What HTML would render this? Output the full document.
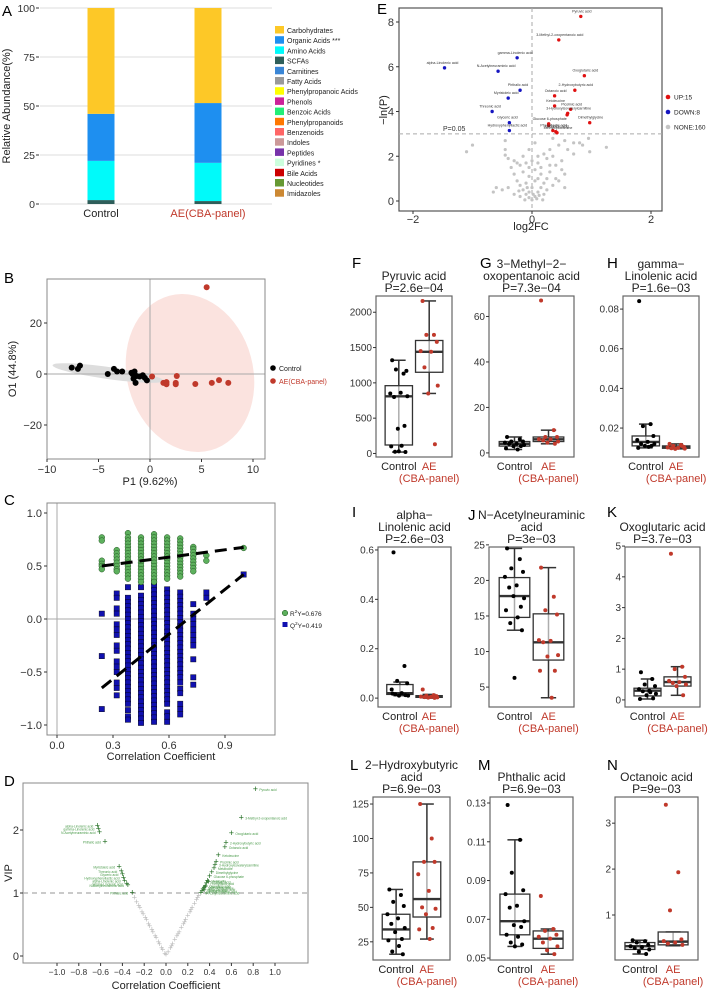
<!DOCTYPE html>
<html><head><meta charset="utf-8">
<style>
html,body{margin:0;padding:0;background:#fff;}
svg{display:block;font-family:"Liberation Sans",Arial,sans-serif;}
</style></head>
<body>
<svg id="fig" width="709" height="992" viewBox="0 0 709 992" xmlns="http://www.w3.org/2000/svg"></svg>
<script>
// ---------- Panel A data ----------
const aCategories = ["Carbohydrates","Organic Acids ***","Amino Acids","SCFAs","Carnitines","Fatty Acids","Phenylpropanoic Acids","Phenols","Benzoic Acids","Phenylpropanoids","Benzenoids","Indoles","Peptides","Pyridines *","Bile Acids","Nucleotides","Imidazoles"];
const aColors = ["#FDC827","#1E8FF0","#00FAFA","#2E5E5A","#3A86D6","#9A9A9A","#FFFF00","#CC2299","#22EE77","#FF7700","#FF6666","#CC9999","#7733AA","#CCFFDD","#CC0000","#669933","#CC8833"];
const aGroups = ["Control","AE(CBA-panel)"];
const aControl = [54,24,20,2,0,0,0,0,0,0,0,0,0,0,0,0,0];
const aAE = [48.5,30.5,19.5,1.5,0,0,0,0,0,0,0,0,0,0,0,0,0];
const aTicks = [0,25,50,75,100];

// ---------- Panel B data ----------
const bControlX = [-7.6,-7,-6.8,-4.1,-3.5,-3.2,-2.7,-1.7,-1.5,-1.6,-1.0,-1.4,-0.7,-0.5,-0.3,-1.8,-1.3];
const bControlY = [2.5,2,3.3,0,2,1,1,0,1,-1.8,-1,-3.5,-0.5,-1.5,-2.5,0.5,-0.8];
const bAEX = [0.2,1.3,1.6,1.6,2.5,2.5,2.6,4.4,6.0,6.7,7.6,5.5];
const bAEY = [-1,-3.5,-3.2,-4,-3.5,-4,-0.8,-3.9,-3.5,-2.4,-3.5,34];
const bXTicks = [-10,-5,0,5,10];
const bYTicks = [-20,0,20];

// ---------- Panel C data ----------
const cCols = [0.24,0.32,0.38,0.45,0.52,0.59,0.66,0.73,0.80,1.0];
const cR2 = [
 [0.77,0.74,0.55,0.52,0.5,0.47],
 [0.65,0.62,0.59,0.56,0.53,0.5,0.47,0.45],
 [0.81,0.77,0.74,0.71,0.68,0.65,0.62,0.59,0.56,0.53,0.5,0.47,0.44,0.41,0.38],
 [0.77,0.74,0.71,0.68,0.65,0.62,0.59,0.56,0.53,0.5,0.47,0.44,0.41,0.38,0.35],
 [0.8,0.77,0.74,0.71,0.68,0.65,0.62,0.59,0.56,0.53,0.5,0.47,0.44,0.41,0.38,0.35],
 [0.77,0.74,0.71,0.68,0.65,0.62,0.59,0.56,0.53,0.5,0.47,0.44,0.41,0.38],
 [0.76,0.73,0.7,0.67,0.64,0.61,0.58,0.55,0.52,0.49,0.46,0.43,0.4],
 [0.68,0.66,0.63,0.6,0.57,0.54,0.51,0.48,0.45],
 [0.6,0.55],
 [0.67]];
const cQ2 = [
 [0.05,-0.35,-0.85],
 [0.24,0.2,0.1,0.05,-0.05,-0.1,-0.15,-0.25,-0.3,-0.4,-0.45,-0.5,-0.6,-0.65,-0.72],
 [0.3,0.2,0.16,0.12,0.08,0.04,0,-0.04,-0.08,-0.12,-0.16,-0.2,-0.24,-0.28,-0.32,-0.36,-0.4,-0.44,-0.48,-0.52,-0.56,-0.6,-0.64,-0.68,-0.72,-0.76,-0.8,-0.86,-0.92,-0.95],
 [0.3,0.22,0.18,0.14,0.1,0.06,0.02,-0.02,-0.06,-0.1,-0.14,-0.18,-0.22,-0.26,-0.3,-0.34,-0.38,-0.42,-0.46,-0.5,-0.54,-0.58,-0.62,-0.66,-0.7,-0.74,-0.78,-0.82,-0.86,-0.9,-0.94,-0.98],
 [0.35,0.31,0.27,0.23,0.19,0.15,0.11,0.07,0.03,-0.01,-0.05,-0.09,-0.13,-0.17,-0.21,-0.25,-0.29,-0.33,-0.37,-0.41,-0.45,-0.49,-0.53,-0.57,-0.61,-0.65,-0.69,-0.73,-0.77,-0.81,-0.85,-0.89,-0.93,-0.97],
 [0.28,0.24,0.2,0.16,0.12,0.08,0.04,0,-0.04,-0.08,-0.12,-0.16,-0.2,-0.24,-0.28,-0.32,-0.36,-0.4,-0.44,-0.48,-0.52,-0.56,-0.6,-0.64,-0.68,-0.72,-0.76,-0.8,-0.88,-0.92,-0.97],
 [0.25,0.21,0.17,0.13,0.09,0.05,0.01,-0.03,-0.07,-0.11,-0.15,-0.19,-0.23,-0.27,-0.31,-0.35,-0.39,-0.43,-0.47,-0.51,-0.55,-0.6,-0.66,-0.7,-0.8,-0.85,-0.9],
 [0.14,0.05,0,-0.05,-0.1,-0.15,-0.2,-0.25,-0.38,-0.55,-0.62],
 [0.25,0.2],
 [0.42]];
const cR2Line = [[0.24,0.50],[1.0,0.676]];
const cQ2Line = [[0.24,-0.65],[1.0,0.42]];
const cXTicks = [0.0,0.3,0.6,0.9];
const cYTicks = [-1.0,-0.5,0.0,0.5,1.0];

// ---------- Panel D data ----------
const dGrayX = [-0.31,-0.29,-0.27,-0.25,-0.24,-0.22,-0.21,-0.19,-0.18,-0.16,-0.15,-0.13,-0.12,-0.1,-0.09,-0.07,-0.06,-0.04,-0.03,-0.01,0,0.02,0.04,0.05,0.06,0.08,0.1,0.11,0.12,0.14,0.16,0.17,0.18,0.2,0.22,0.23,0.24,0.26,0.28,0.29,0.3];
const dGrayVIP = [1.0,0.93,0.86,0.8,0.77,0.7,0.67,0.61,0.58,0.51,0.48,0.42,0.38,0.32,0.29,0.22,0.19,0.13,0.1,0.04,0.02,0.06,0.13,0.16,0.19,0.26,0.32,0.35,0.38,0.45,0.51,0.54,0.58,0.64,0.7,0.74,0.77,0.83,0.9,0.93,0.96];
const dPosX = [0.82,0.69,0.6,0.55,0.54,0.48,0.46,0.45,0.44,0.42,0.4,0.38,0.37,0.36,0.35,0.34,0.33,0.32,0.39,0.36,0.35];
const dPosVIP = [2.65,2.2,1.95,1.8,1.73,1.6,1.5,1.45,1.4,1.33,1.27,1.2,1.16,1.12,1.09,1.06,1.03,1.01,1.18,1.1,1.05];
const dNegX = [-0.63,-0.62,-0.61,-0.56,-0.43,-0.41,-0.4,-0.39,-0.38,-0.36,-0.35,-0.31];
const dNegVIP = [2.07,2.02,1.97,1.82,1.42,1.35,1.3,1.25,1.2,1.15,1.13,1.01];
const dXTicks = [-1.0,-0.8,-0.6,-0.4,-0.2,0.0,0.2,0.4,0.6,0.8,1.0];
const dYTicks = [0,1,2];

// ---------- Panel E data ----------
const eUpNames = ["Pyruvic acid","3-Methyl-2-oxopentanoic acid","Oxoglutaric acid","2-Hydroxybutyric acid","Octanoic acid","Ketoleucine","Picolinic acid","3-Hydroxyisovalerylcarnitine","","Dimethylglycine","Glucose 6-phosphate","","Phenyllactic acid","Oxoadipic acid","Methylcysteamine"];
const eUpX = [0.82,0.45,0.88,0.72,0.38,0.38,0.65,0.6,0.59,0.97,0.28,0.28,0.35,0.4,0.42];
const eUpY = [8.25,7.2,5.6,4.95,4.7,4.25,4.1,3.92,3.85,3.5,3.45,3.38,3.15,3.1,3.05];
const eDownNames = ["alpha-Linolenic acid","gamma-Linolenic acid","N-Acetylneuraminic acid","Phthalic acid","Myristoleic acid","Threonic acid","Glyceric acid","Hydroxyphenyllactic acid"];
const eDownX = [-1.47,-0.25,-0.57,-0.2,-0.4,-0.67,-0.38,-0.38];
const eDownY = [5.95,6.4,5.8,4.95,4.6,4.0,3.5,3.15];
const eGrayX = [-1.1,-1.0,-0.45,-0.45,-0.4,-0.3,-0.2,-0.15,-0.1,-0.05,0,0.05,0.1,0.15,0.2,0.25,0.3,0.35,0.4,0.45,0.5,0.55,0.6,0.7,0.7,0.85,0.95,0.97,1.25,-0.3,-0.25,-0.2,-0.15,-0.1,-0.05,0,0.05,0.1,0.15,0.2,0.25,0.3,-0.35,-0.5,-0.6,-0.65,-0.4,-0.3,-0.2,-0.1,0.05,0.1,0.2,0.25,0.35,0.4,0.45,0.5,0.55,-0.05,0,-0.15,0.15,-0.25,0.3,0.1,-0.05,0.05,-0.45,0.55,0.35,0.8,-0.05,0.02,0.08,-0.12,0.12,-0.08,0.18,-0.22];
const eGrayY = [2.2,2.5,2.3,2.05,1.9,1.8,1.6,2.0,1.7,1.5,1.8,1.4,1.7,1.2,2.1,1.9,2.3,2.0,1.6,2.5,1.8,1.2,2.3,2.6,2.1,2.5,2.8,2.2,2.4,1.2,0.9,0.7,0.5,0.3,0.15,0.05,0.2,0.4,0.6,0.8,1.0,1.3,1.5,0.5,0.6,0.4,0.6,0.3,0.2,0.8,0.9,1.0,0.3,0.5,0.7,1.0,0.9,1.4,0.6,1.1,0.6,1.3,1.5,1.7,1.6,2.0,2.3,2.6,2.7,2.7,2.8,2.6,0.4,0.3,0.1,0.05,0.25,0.6,0.05,0.45];
const eXTicks = [-2,0,2];
const eYTicks = [0,2,4,6,8];

// ---------- Box plot data (Control / AE) ----------
const pyruvicCtrl = [1320,1130,1190,1170,850,860,800,810,350,390,100,110,25,20,30];
const pyruvicAE = [2160,1680,1680,1580,1450,1440,1220,960,850,130];
const pyruvicStats = [[20,120,810,960,1320],[850,1150,1440,1600,2160]];
const methylCtrl = [7,6,5,5,4.5,4,4,3.5,3,3,2,1.5];
const methylAE = [67,10,7,7,6,6,5.5,5,4.5,4];
const methylStats = [[1.5,3,4,5,7],[4,5,6,7,10]];
const gammaCtrl = [0.084,0.022,0.021,0.016,0.014,0.013,0.012,0.012,0.011,0.011,0.010,0.0105];
const gammaAE = [0.012,0.0115,0.011,0.0105,0.0102,0.010,0.0098,0.0096,0.0095,0.011];
const gammaStats = [[0.010,0.011,0.013,0.016,0.022],[0.0095,0.0098,0.0103,0.011,0.012]];
const alphaCtrl = [0.59,0.13,0.07,0.06,0.035,0.02,0.015,0.01,0.01,0.012,0.018];
const alphaAE = [0.035,0.012,0.01,0.008,0.006,0.005,0.004,0.003,0.002,0.001];
const alphaStats = [[0.01,0.015,0.02,0.055,0.065],[0,0.003,0.006,0.01,0.015]];
const neuCtrl = [24.5,23,21.7,21.2,20.5,19.3,19,17.5,17.8,16.3,15.8,14.8,14,13,6.3];
const neuAE = [21.8,17.7,15.8,15.2,11.6,11.5,11.3,9.5,9.3,7.3,7.3,3.5];
const neuStats = [[13,14.8,17.8,20.4,24.5],[3.5,8.8,11.3,15.3,21.8]];
const oxoCtrl = [0.9,0.68,0.5,0.45,0.35,0.3,0.28,0.2,0.15,0.05,0.03,0.25];
const oxoAE = [4.75,1.08,1.0,0.75,0.62,0.58,0.55,0.5,0.45,0.15];
const oxoStats = [[0.03,0.13,0.3,0.38,0.68],[0.15,0.45,0.58,0.75,1.08]];
const hbCtrl = [63,59,54,51,45,42,38,35,32,27,26,22,18,16];
const hbAE = [125,100,83,83,74,62,50,49,45,35,34,27];
const hbStats = [[16,27,34,45,63],[27,43,56,83,125]];
const phCtrl = [0.129,0.111,0.094,0.085,0.083,0.077,0.076,0.069,0.067,0.066,0.062,0.061,0.058,0.057,0.056];
const phAE = [0.082,0.065,0.064,0.062,0.061,0.06,0.058,0.056,0.054,0.052];
const phStats = [[0.056,0.062,0.069,0.083,0.111],[0.052,0.055,0.06,0.064,0.065]];
const ocCtrl = [0.45,0.43,0.4,0.35,0.32,0.3,0.28,0.25,0.2,0.15];
const ocAE = [3.4,1.93,1.1,0.47,0.43,0.4,0.38,0.35];
const ocStats = [[0.15,0.25,0.32,0.4,0.45],[0.33,0.35,0.42,0.63,0.63]];

const NS="http://www.w3.org/2000/svg";
const svg=document.getElementById('fig');
function el(tag,attrs,parent,text){const e=document.createElementNS(NS,tag);for(const k in attrs)e.setAttribute(k,attrs[k]);if(text!==undefined)e.textContent=text;(parent||svg).appendChild(e);return e;}
function grp(name,parent){const g=el('g',{},parent);return g;}
function lin(d0,d1,p0,p1){return v=>p0+(v-d0)*(p1-p0)/(d1-d0);}
const RED="#C0392B";

// ================= Panel A =================
(function(){
 const g=grp('panel-a-stacked-bar');
 const t=el('text',{x:2,y:16,'font-size':15},g,'A');
 const y=lin(0,100,204,8);
 aTicks.forEach(v=>{
  const gl=el('line',{x1:40,x2:272,y1:y(v),y2:y(v),stroke:'#ddd','stroke-width':1},g);
  
  const tl=el('text',{x:35,y:y(v)+4,'font-size':10.5,'text-anchor':'end',fill:'#333'},g,String(v));
  
  el('line',{x1:36,x2:39,y1:y(v),y2:y(v),stroke:'#333'},g);
 });
 const yl=el('text',{x:0,y:0,'font-size':11,'text-anchor':'middle',fill:'#222',transform:'translate(10,106) rotate(-90)'},g,'Relative Abundance(%)');
 
 const centers=[101,208];
 [aControl,aAE].forEach((vals,gi)=>{
  let cum=0;
  const order=[3,2,1,0];
  order.forEach(ci=>{
   const v=vals[ci];if(v<=0)return;
   const r=el('rect',{x:centers[gi]-13.5,y:y(cum+v),width:27,height:y(cum)-y(cum+v),fill:aColors[ci]},g);
   
   cum+=v;
  });
  const xl=el('text',{x:centers[gi],y:217,'font-size':11,'text-anchor':'middle',fill:gi?RED:'#222'},g,aGroups[gi]);
  
 });
 aCategories.forEach((c,i)=>{
  const yy=26+i*10.2;
  const s=el('rect',{x:275,y:yy,width:9,height:7.5,fill:aColors[i]},g);
  
  const lt=el('text',{x:287,y:yy+7,'font-size':7,fill:'#222'},g,c);
  
 });
})();

// ================= Panel B =================
(function(){
 const g=grp('panel-b-opls-da');
 const t=el('text',{x:4,y:283,'font-size':15},g,'B');
 const L=47,R=265,T=279,B=459;
 const x=lin(0,10,150,253),y=lin(0,20,374,323);
 const e1=el('ellipse',{cx:190,cy:373,rx:63,ry:80,fill:'#FBE3DF',transform:'rotate(-15 190 373)'},g);
 
 const e2=el('ellipse',{cx:108,cy:373,rx:56,ry:6,fill:'#DDDDDD',transform:'rotate(8 108 373)'},g);
 
 el('line',{x1:x(0),x2:x(0),y1:T,y2:B,stroke:'#aaa'},g);
 el('line',{x1:L,x2:R,y1:y(0),y2:y(0),stroke:'#aaa'},g);
 const fr=el('rect',{x:L,y:T,width:R-L,height:B-T,fill:'none',stroke:'#888'},g);
 bXTicks.forEach(v=>{el('line',{x1:x(v),x2:x(v),y1:B,y2:B+3,stroke:'#333'},g);
  const tl=el('text',{x:x(v),y:B+14,'font-size':11,'text-anchor':'middle',fill:'#333'},g,v<0?'\u2212'+(-v):String(v));});
 bYTicks.forEach(v=>{el('line',{x1:L-3,x2:L,y1:y(v),y2:y(v),stroke:'#333'},g);
  const tl=el('text',{x:L-5,y:y(v)+4,'font-size':11,'text-anchor':'end',fill:'#333'},g,v<0?'\u2212'+(-v):String(v));});
 bControlX.forEach((v,i)=>{const c=el('circle',{cx:x(v),cy:y(bControlY[i]),r:3,fill:'#000'},g);});
 bAEX.forEach((v,i)=>{const c=el('circle',{cx:x(v),cy:y(bAEY[i]),r:3,fill:RED},g);});
 const xt=el('text',{x:150,y:485,'font-size':11,'text-anchor':'middle',fill:'#222'},g,'P1 (9.62%)');
 const yt=el('text',{x:0,y:0,'font-size':11,'text-anchor':'middle',fill:'#222',transform:'translate(16,369) rotate(-90)'},g,'O1 (44.8%)');
 el('circle',{cx:273,cy:368,r:2.8,fill:'#000'},g);
 const l1=el('text',{x:279,y:371,'font-size':7,fill:'#222'},g,'Control');
 el('circle',{cx:273,cy:381,r:2.8,fill:RED},g);
 const l2=el('text',{x:279,y:384,'font-size':7,fill:RED},g,'AE(CBA-panel)');
})();

// ================= Panel C =================
(function(){
 const g=grp('panel-c-permutation');
 const t=el('text',{x:4,y:505,'font-size':15},g,'C');
 const L=47,R=275,T=503,B=735;
 const x=lin(0,0.3,57,113),y=lin(0,1,619,513);
 el('line',{x1:x(0),x2:x(0),y1:T,y2:B,stroke:'#aaa'},g);
 el('line',{x1:L,x2:R,y1:y(0),y2:y(0),stroke:'#aaa'},g);
 const fr=el('rect',{x:L,y:T,width:R-L,height:B-T,fill:'none',stroke:'#888'},g);
 cXTicks.forEach(v=>{el('line',{x1:x(v),x2:x(v),y1:B,y2:B+3,stroke:'#333'},g);
  const tl=el('text',{x:x(v),y:B+14,'font-size':11,'text-anchor':'middle',fill:'#333'},g,v.toFixed(1));});
 cYTicks.forEach(v=>{el('line',{x1:L-3,x2:L,y1:y(v),y2:y(v),stroke:'#333'},g);
  const tl=el('text',{x:L-5,y:y(v)+4,'font-size':11,'text-anchor':'end',fill:'#333'},g,(v<0?'\u2212':'')+Math.abs(v).toFixed(1));});
 cQ2.forEach((col,ci)=>col.forEach(v=>{const r=el('rect',{x:x(cCols[ci])-2.7,y:y(v)-2.7,width:5.4,height:5.4,fill:'#1010B0',stroke:'#000','stroke-width':0.4},g);}));
 cR2.forEach((col,ci)=>col.forEach(v=>{const c=el('circle',{cx:x(cCols[ci]),cy:y(v),r:2.9,fill:'#5DB05D',stroke:'#225522','stroke-width':0.5},g);}));
 [cR2Line,cQ2Line].forEach((ln,i)=>{const l=el('line',{x1:x(ln[0][0]),y1:y(ln[0][1]),x2:x(ln[1][0]),y2:y(ln[1][1]),stroke:'#000','stroke-width':3,'stroke-dasharray':'12,7'},g);});
 const xt=el('text',{x:161,y:760,'font-size':11,'text-anchor':'middle',fill:'#222'},g,'Correlation Coefficient');
 el('circle',{cx:285,cy:613,r:2.8,fill:'#5DB05D',stroke:'#225522','stroke-width':0.5},g);
 const l1=el('text',{x:290,y:616,'font-size':6.5,fill:'#222'},g);
 l1.innerHTML='R<tspan dy="-3" font-size="4.5">2</tspan><tspan dy="3">Y=0.676</tspan>';
 el('rect',{x:282.5,y:622,width:5,height:5,fill:'#1010B0'},g);
 const l2=el('text',{x:290,y:628,'font-size':6.5,fill:'#222'},g);
 l2.innerHTML='Q<tspan dy="-3" font-size="4.5">2</tspan><tspan dy="3">Y=0.419</tspan>';
})();

// ================= Panel D =================
(function(){
 const g=grp('panel-d-vip');
 const t=el('text',{x:4,y:786,'font-size':15},g,'D');
 const L=23,R=308,T=783,B=963;
 const x=lin(0,1,166,275),y=lin(0,1,956,893);
 const fr=el('rect',{x:L,y:T,width:R-L,height:B-T,fill:'none',stroke:'#888'},g);
 const th=el('line',{x1:L,x2:R,y1:y(1),y2:y(1),stroke:'#aaa','stroke-dasharray':'5,4','stroke-width':1.2},g);
 dXTicks.forEach(v=>{el('line',{x1:x(v),x2:x(v),y1:B,y2:B+3,stroke:'#333'},g);
  const tl=el('text',{x:x(v),y:B+12,'font-size':8.5,'text-anchor':'middle',fill:'#333'},g,(v<0?'\u2212':'')+Math.abs(v).toFixed(1));});
 dYTicks.forEach(v=>{el('line',{x1:L-3,x2:L,y1:y(v),y2:y(v),stroke:'#333'},g);
  const tl=el('text',{x:L-4,y:y(v)+4,'font-size':11,'text-anchor':'end',fill:'#333'},g,String(v));});
 dGrayX.forEach((v,i)=>{const c=el('text',{x:x(v),y:y(dGrayVIP[i])+3,'font-size':9,'text-anchor':'middle',fill:'#bbb'},g,'+');});
 const names=eUpNames.concat(eDownNames);
 dPosX.forEach((v,i)=>{
  const lb=el('text',{x:x(v)+4,y:y(dPosVIP[i])+2,'font-size':3.2,fill:'#4a9a4a'},g,names[i%names.length]||'Metabolite');
  const c=el('text',{x:x(v),y:y(dPosVIP[i])+3,'font-size':9,'text-anchor':'middle',fill:'#1E6B1E'},g,'+');});
 dNegX.forEach((v,i)=>{
  const lb=el('text',{x:x(v)-4,y:y(dNegVIP[i])+2,'font-size':3.2,'text-anchor':'end',fill:'#4a9a4a'},g,eDownNames[i%eDownNames.length]);
  const c=el('text',{x:x(v),y:y(dNegVIP[i])+3,'font-size':9,'text-anchor':'middle',fill:'#1E6B1E'},g,'+');});
 const xt=el('text',{x:166,y:989,'font-size':11,'text-anchor':'middle',fill:'#222'},g,'Correlation Coefficient');
 const yt=el('text',{x:0,y:0,'font-size':11,'text-anchor':'middle',fill:'#222',transform:'translate(12,873) rotate(-90)'},g,'VIP');
})();

// ================= Panel E =================
(function(){
 const g=grp('panel-e-volcano');
 const t=el('text',{x:377,y:14,'font-size':15},g,'E');
 const L=399,R=662,T=8,B=211;
 const x=lin(0,2,532,651),y=lin(0,8,201,22);
 const fr=el('rect',{x:L,y:T,width:R-L,height:B-T,fill:'none',stroke:'#555','stroke-width':1.2},g);
 el('line',{x1:x(0),x2:x(0),y1:T,y2:B,stroke:'#aaa','stroke-dasharray':'4,3'},g);
 const ph=el('line',{x1:L,x2:R,y1:y(3),y2:y(3),stroke:'#aaa','stroke-dasharray':'4,3'},g);
 el('text',{x:443,y:y(3)-3,'font-size':7,fill:'#333'},g,'P=0.05');
 eXTicks.forEach(v=>{el('line',{x1:x(v),x2:x(v),y1:B,y2:B+3,stroke:'#333'},g);
  const tl=el('text',{x:x(v),y:B+12,'font-size':11,'text-anchor':'middle',fill:'#333'},g,v<0?'\u2212'+(-v):String(v));});
 eYTicks.forEach(v=>{el('line',{x1:L-3,x2:L,y1:y(v),y2:y(v),stroke:'#333'},g);
  const tl=el('text',{x:L-5,y:y(v)+4,'font-size':11,'text-anchor':'end',fill:'#333'},g,String(v));});
 eGrayX.forEach((v,i)=>{const c=el('circle',{cx:x(v),cy:y(eGrayY[i]),r:1.6,fill:'#C4C4C4'},g);});
 eDownX.forEach((v,i)=>{const c=el('circle',{cx:x(v),cy:y(eDownY[i]),r:1.7,fill:'#1515C0'},g);
  const lb=el('text',{x:x(v)-2,y:y(eDownY[i])-4,'font-size':3.6,'text-anchor':'middle',fill:'#333'},g,eDownNames[i]);});
 eUpX.forEach((v,i)=>{const c=el('circle',{cx:x(v),cy:y(eUpY[i]),r:1.7,fill:'#E01010'},g);
  if(eUpNames[i]){const lb=el('text',{x:x(v)+1,y:y(eUpY[i])-4,'font-size':3.6,'text-anchor':'middle',fill:'#333'},g,eUpNames[i]);}});
 const xt=el('text',{x:531,y:230,'font-size':11,'text-anchor':'middle',fill:'#222'},g,'log2FC');
 const yt=el('text',{x:0,y:0,'font-size':11,'text-anchor':'middle',fill:'#222',transform:'translate(387,110) rotate(-90)'},g,'\u2212ln(P)');
 [['#E01010','UP:15',97],['#1515C0','DOWN:8',112],['#C4C4C4','NONE:160',127]].forEach(d=>{
  el('circle',{cx:668,cy:d[2],r:2.3,fill:d[0]},g);
  const lt=el('text',{x:674,y:d[2]+2.5,'font-size':6.5,fill:'#222'},g,d[1]);
 });
})();

// ================= Box plots F-N =================
const jit=[-7,5,-3,8,-9,2,-5,9,-1,6,-8,3,-4,7,0,-6];
function boxPanel(name,letter,letterPos,titleLines,pText,L,R,T,B,dom,ticks,tickFmt,ctrl,ae,stats){
 const g=grp(name);
 if(letter){const t=el('text',{x:letterPos[0],y:letterPos[1],'font-size':15},g,letter);}
 const cx=(L+R)/2;
 const lines=titleLines.concat([pText]);
 lines.forEach((s,i)=>{const tt=el('text',{x:cx,y:T-4-(lines.length-1-i)*12,'font-size':12,'text-anchor':'middle',fill:'#222'},g,s);});
 const y=lin(dom[0],dom[1],B,T);
 const fr=el('rect',{x:L,y:T,width:R-L,height:B-T,fill:'none',stroke:'#666','stroke-width':1.2},g);
 ticks.forEach(v=>{el('line',{x1:L-3,x2:L,y1:y(v),y2:y(v),stroke:'#333'},g);
  const tl=el('text',{x:L-4,y:y(v)+3.5,'font-size':10,'text-anchor':'end',fill:'#333'},g,tickFmt(v));});
 const w=R-L, xs=[L+w*0.3,L+w*0.7], bw=w*0.36;
 [ctrl,ae].forEach((pts,gi)=>{
  const s=stats[gi],xc=xs[gi];
  el('line',{x1:xc,x2:xc,y1:y(s[0]),y2:y(s[4]),stroke:'#333','stroke-width':1.5},g);
  [s[0],s[4]].forEach(v=>el('line',{x1:xc-bw/4,x2:xc+bw/4,y1:y(v),y2:y(v),stroke:'#333','stroke-width':1.5},g));
  const b=el('rect',{x:xc-bw/2,y:y(s[3]),width:bw,height:Math.max(1,y(s[1])-y(s[3])),fill:'#fff','fill-opacity':0.6,stroke:'#333','stroke-width':1.3},g);
  
  el('line',{x1:xc-bw/2,x2:xc+bw/2,y1:y(s[2]),y2:y(s[2]),stroke:'#333','stroke-width':2.4},g);
  pts.forEach((v,i)=>{const c=el('circle',{cx:xc+jit[i%jit.length]*w/80,cy:y(v),r:2,fill:gi?RED:'#000'},g);});
  const xl=el('text',{x:xc,y:B+13,'font-size':11,'text-anchor':'middle',fill:gi?RED:'#222'},g,gi?'AE':'Control');
 });
 const sub=el('text',{x:xs[1],y:B+25,'font-size':11,'text-anchor':'middle',fill:RED},g,'(CBA-panel)');
}
const fI=v=>String(v), f2=v=>v.toFixed(2), f1=v=>v.toFixed(1);
boxPanel('panel-f-pyruvic','F',[352,268],['Pyruvic acid'],'P=2.6e\u221204',376,452,296,457,[-50,2230],[0,500,1000,1500,2000],fI,pyruvicCtrl,pyruvicAE,pyruvicStats);
boxPanel('panel-g-methyl','G',[480,268],['3\u2212Methyl\u22122\u2212','oxopentanoic acid'],'P=7.3e\u221204',489,574,296,457,[-1.8,69],[0,20,40,60],fI,methylCtrl,methylAE,methylStats);
boxPanel('panel-h-gamma','H',[607,268],['gamma\u2212','Linolenic acid'],'P=1.6e\u221203',623,699,296,457,[0.0054,0.0866],[0.02,0.04,0.06,0.08],f2,gammaCtrl,gammaAE,gammaStats);
boxPanel('panel-i-alpha','I',[352,517],['alpha\u2212','Linolenic acid'],'P=2.6e\u221203',378,451,547,707,[-0.036,0.612],[0,0.2,0.4,0.6],f1,alphaCtrl,alphaAE,alphaStats);
boxPanel('panel-j-neuraminic','J',[468,520],['N\u2212Acetylneuraminic','acid'],'P=3e\u221203',489,574,547,707,[2.2,24.7],[5,10,15,20,25],fI,neuCtrl,neuAE,neuStats);
boxPanel('panel-k-oxoglutaric','K',[607,517],['Oxoglutaric acid'],'P=3.7e\u221203',625,700,547,707,[-0.23,4.97],[0,1,2,3,4,5],fI,oxoCtrl,oxoAE,oxoStats);
boxPanel('panel-l-hydroxybutyric','L',[350,770],['2\u2212Hydroxybutyric','acid'],'P=6.9e\u221203',373,450,797,960,[11.8,130.1],[25,50,75,100,125],fI,hbCtrl,hbAE,hbStats);
boxPanel('panel-m-phthalic','M',[478,770],['Phthalic acid'],'P=6.9e\u221203',490,573,797,960,[0.049,0.1331],[0.05,0.07,0.09,0.11,0.13],f2,phCtrl,phAE,phStats);
boxPanel('panel-n-octanoic','N',[607,770],['Octanoic acid'],'P=9e\u221203',615,698,797,960,[0.02,3.57],[1,2,3],fI,ocCtrl,ocAE,ocStats);
</script>
</body></html>
